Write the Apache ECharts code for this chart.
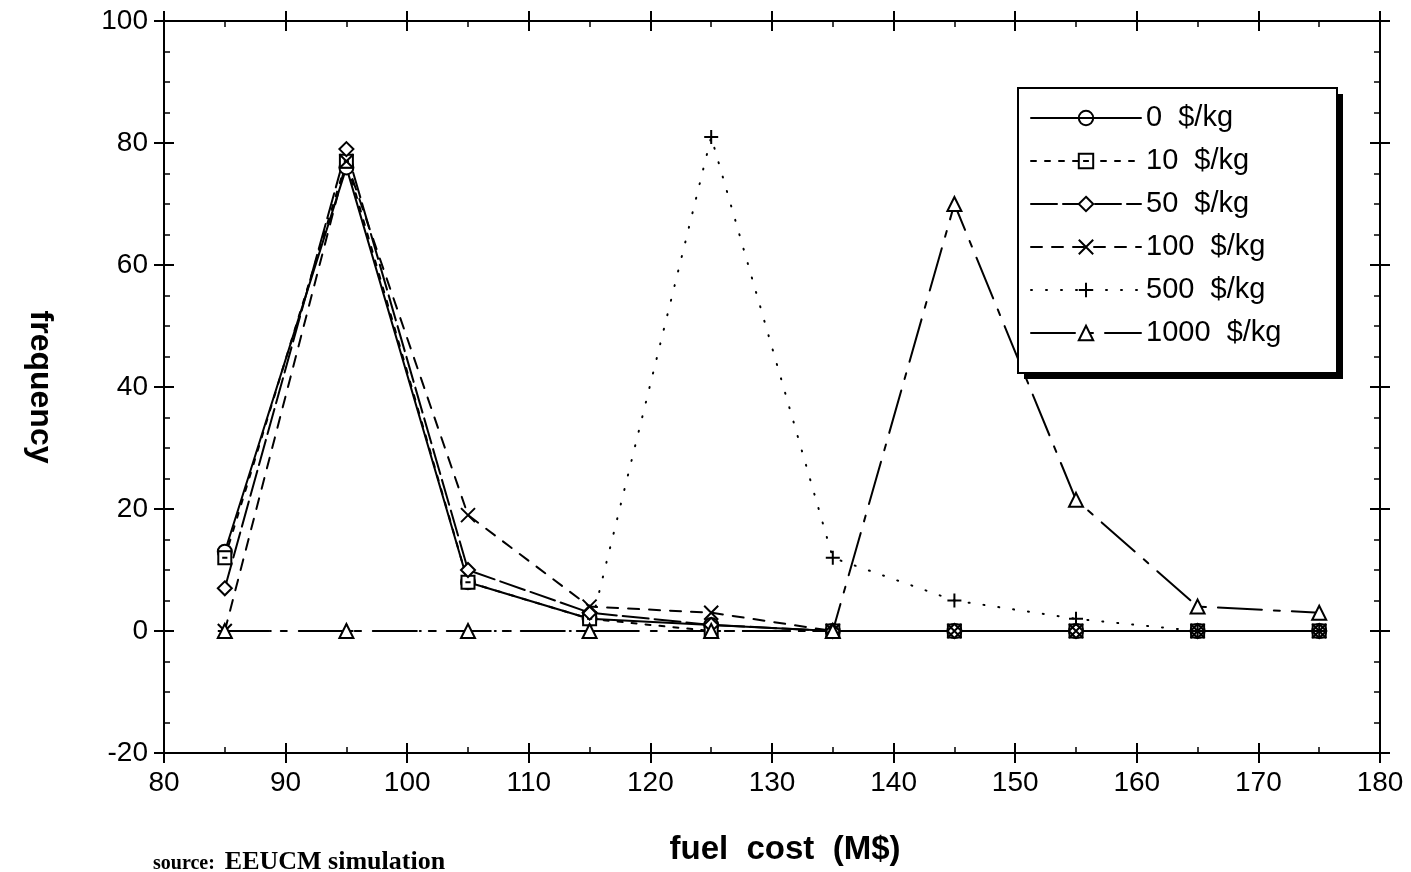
<!DOCTYPE html>
<html>
<head>
<meta charset="utf-8">
<script src="https://cdn.jsdelivr.net/npm/echarts@6/dist/echarts.min.js"></script>
<style>
  html, body { margin: 0; padding: 0; background: #fff; }
  #chart { width: 1411px; height: 872px; }
</style>
</head>
<body>
<div id="chart"></div>
<script>
// fuel cost bins (M$)
const fuelCost = [85, 95, 105, 115, 125, 135, 145, 155, 165, 175]
// frequency per tax level
const tax0 = [13, 76, 8, 2, 1, 0, 0, 0, 0, 0]
const tax10 = [12, 77, 8, 2, 0, 0, 0, 0, 0, 0]
const tax50 = [7, 79, 10, 3, 1, 0, 0, 0, 0, 0]
const tax100 = [0, 77, 19, 4, 3, 0, 0, 0, 0, 0]
const tax500 = [0, 0, 0, 0, 81, 12, 5, 2, 0, 0]
const tax1000 = [0, 0, 0, 0, 0, 0, 70, 21.5, 4, 3]
const seriesNames = ['0  $/kg', '10  $/kg', '50  $/kg', '100  $/kg', '500  $/kg', '1000  $/kg']

const FONT = '"Liberation Sans", Arial, sans-serif'

const symCircle = 'path://M0,5A5,5 0 1,1 10,5A5,5 0 1,1 0,5ZM0,5L10,5'
const symSquare = 'path://M0,0L10,0L10,10L0,10ZM3,5L7,5'
const symCross = 'path://M0,0L10,10M10,0L0,10'
const symPlus = 'path://M5,0L5,10M0,5L10,5'

const makeSeries = (name, values, symbol, dash, size) => ({
    name: name,
    type: 'line',
    data: values.map((v, i) => [fuelCost[i], v]),
    symbol: symbol,
    symbolSize: size || 14,
    showAllSymbol: true,
    lineStyle: { color: '#000', width: 2, type: dash, cap: 'round' },
    itemStyle: { color: '#fff', borderColor: '#000', borderWidth: 2 },
    emphasis: { disabled: true },
    z: 3
})

// one axis per side; a second copy draws the outward half of the major ticks
const xAxisDef = (pos, inside, labels) => ({
    type: 'value', position: pos, min: 80, max: 180, interval: 10,
    axisLine: { show: true, onZero: false, lineStyle: { color: '#000', width: 2 } },
    axisTick: { show: true, inside: inside, length: 10, lineStyle: { color: '#000', width: 2 } },
    minorTick: { show: inside, splitNumber: 2, length: 6, lineStyle: { color: '#000', width: 1.5 } },
    axisLabel: { show: labels, color: '#000', fontSize: 28, fontFamily: FONT, margin: 16 },
    splitLine: { show: false }
})
const yAxisDef = (pos, inside, labels) => ({
    type: 'value', position: pos, min: -20, max: 100, interval: 20,
    axisLine: { show: true, onZero: false, lineStyle: { color: '#000', width: 2 } },
    axisTick: { show: true, inside: inside, length: 10, lineStyle: { color: '#000', width: 2 } },
    minorTick: { show: inside, splitNumber: 4, length: 6, lineStyle: { color: '#000', width: 1.5 } },
    axisLabel: { show: labels, color: '#000', fontSize: 28, fontFamily: FONT, margin: 16 },
    splitLine: { show: false }
})

const xBottom = xAxisDef('bottom', false, true)
xBottom.name = 'fuel  cost  (M$)'
xBottom.nameLocation = 'middle'
xBottom.nameGap = 80
xBottom.nameTextStyle = { color: '#000', fontSize: 33, fontWeight: 'bold', fontFamily: FONT, padding: [0, 0, 0, 26] }

const yLeft = yAxisDef('left', false, true)
yLeft.name = 'frequency'
yLeft.nameLocation = 'middle'
yLeft.nameRotate = -90
yLeft.nameGap = 108
yLeft.nameTextStyle = { color: '#000', fontSize: 32, fontWeight: 'bold', fontFamily: FONT }

// legend frame with a hard drop shadow
const box = { x: 1018, y: 88, w: 319, h: 285 }

const option = {
    backgroundColor: '#fff',
    animation: false,
    grid: { left: 164, right: 31, top: 21, bottom: 119 },
    xAxis: [xBottom, xAxisDef('bottom', true, false), xAxisDef('top', true, false), xAxisDef('top', false, false)],
    yAxis: [yLeft, yAxisDef('left', true, false), yAxisDef('right', true, false), yAxisDef('right', false, false)],
    graphic: [
        { type: 'rect', z: 10, shape: { x: box.x + 6, y: box.y + 6, width: box.w, height: box.h }, style: { fill: '#000' } },
        { type: 'rect', z: 11, shape: { x: box.x, y: box.y, width: box.w, height: box.h }, style: { fill: '#fff', stroke: '#000', lineWidth: 2 } }
    ],
    legend: {
        z: 20,
        orient: 'vertical',
        left: box.x,
        top: box.y,
        padding: [15, 10, 10, 12],
        itemGap: 13,
        itemWidth: 110,
        itemHeight: 18,
        textStyle: { color: '#000', fontSize: 29, fontFamily: FONT, lineHeight: 30 },
        data: seriesNames
    },
    title: {
        text: '{a|source:}  {b|EEUCM simulation}',
        left: 148,
        top: 843,
        textStyle: {
            rich: {
                a: { color: '#000', fontSize: 20, fontWeight: 'bold', fontFamily: '"Liberation Serif", serif', lineHeight: 20, padding: [4, 0, 0, 0] },
                b: { color: '#000', fontSize: 26, fontWeight: 'bold', fontFamily: '"Liberation Serif", serif', lineHeight: 28 }
            }
        }
    },
    series: [
        makeSeries(seriesNames[0], tax0, symCircle, 'solid'),
        makeSeries(seriesNames[1], tax10, symSquare, [5, 9], 13),
        makeSeries(seriesNames[2], tax50, 'diamond', [26, 6]),
        makeSeries(seriesNames[3], tax100, symCross, [11, 10]),
        makeSeries(seriesNames[4], tax500, symPlus, [1, 14]),
        makeSeries(seriesNames[5], tax1000, 'triangle', [44, 12, 6, 12])
    ]
}

const chart = echarts.init(document.getElementById('chart'))
chart.setOption(option)
</script>
</body>
</html>
